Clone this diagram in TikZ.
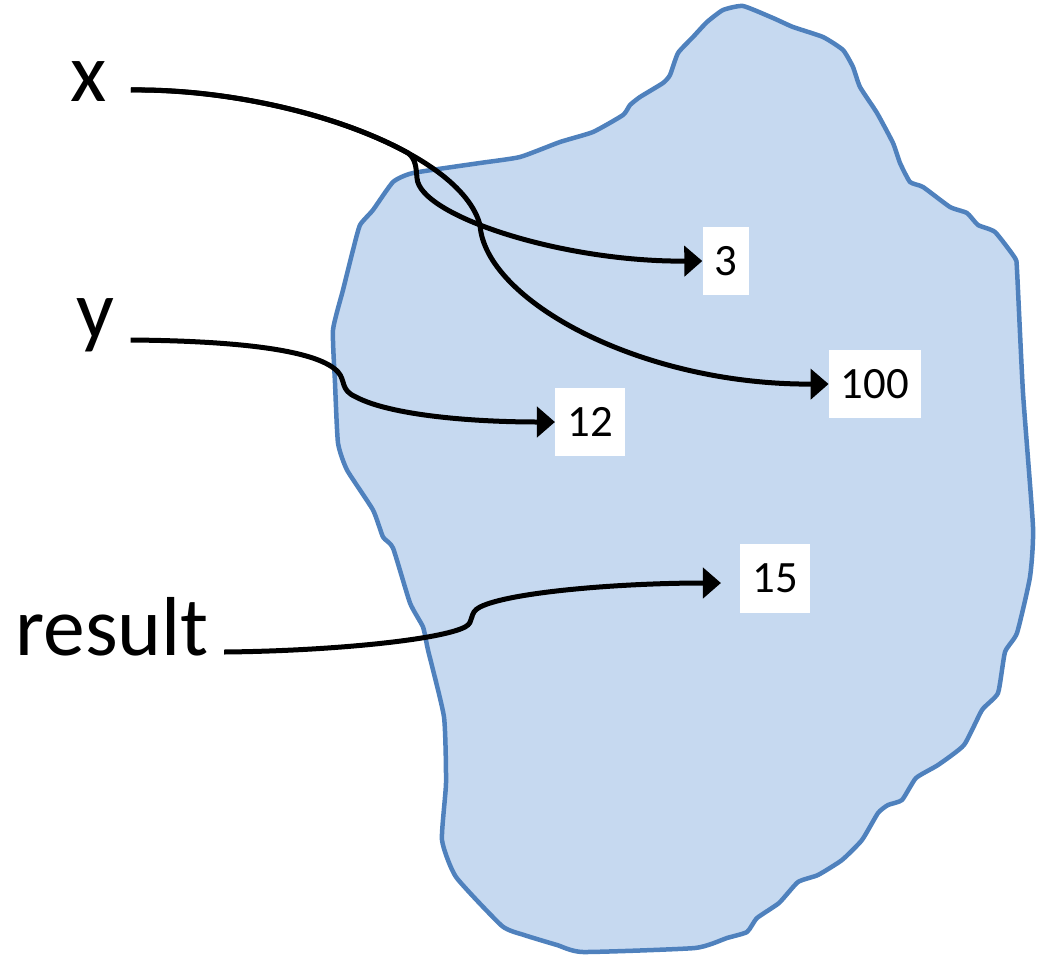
\documentclass[tikz,border=0pt]{standalone}
\usepackage{fontspec}
\setmainfont{Carlito}
\usetikzlibrary{positioning,arrows.meta}
\definecolor{blobfill}{HTML}{C6D9F0}
\definecolor{blobline}{HTML}{4F81BD}

\begin{document}
\begin{tikzpicture}[
    x=0.02cm, y=-0.02cm,
    var/.style={inner sep=0pt, anchor=base west, font=\fontsize{47.6}{50}\selectfont},
    val/.style={rectangle, fill=white, inner xsep=0.24cm, inner ysep=0pt, minimum height=1.38cm, font=\fontsize{25.5}{28}\selectfont},
    ptr/.style={-{Triangle[length=0.36cm, width=0.6cm]}, line width=0.1cm}
]
\useasboundingbox (0,0) rectangle (1041,960);

\draw[blobline, fill=blobfill, line width=0.09cm, line join=round]
    plot[smooth cycle, tension=0.3] coordinates {
    (393,182) (413,173) (480,163) (520,157) (560,142) (593,132) (623,115) (630,105)
    (640,97) (663,83) (670,75) (678,53) (693,37) (707,22) (723,10) (743,6)
    (773,18) (793,27) (823,37) (843,50) (853,67) (860,87) (877,113) (893,143)
    (900,163) (910,182) (923,187) (950,207) (967,213) (978,225) (995,232) (1015,258)
    (1017,270) (1023,393) (1033,527) (1030,577) (1017,633) (1005,652) (998,693) (982,710)
    (964,745) (938,765) (916,778) (902,800) (888,805) (878,813) (862,840) (842,860)
    (818,875) (798,882) (779,903) (757,918) (747,932) (727,938) (695,948) (583,952)
    (557,945) (524,935) (502,926) (456,877) (442,840) (446,783) (444,717) (428,650)
    (423,627) (410,603) (393,548) (383,537) (373,510) (347,470) (338,443) (335,383)
    (333,330) (343,290) (353,250) (360,225) (373,210)};

\node[var] (x) at (70,101) {x};
\node[var] (y) at (76,338) {y};
\node[var] (result) at (15,655) {result};

\node[val] (v3) at (726,261) {3};
\node[val] (v100) at (875,384) {100};
\node[val] (v12) at (590,422) {12};
\node[val] (v15) at (775,578) {15};

\draw[ptr] ([shift={(24,-11)}]x.base east) .. controls (227,89) and (338,114) .. (408,153)
    .. controls (416,159) and (416,168) .. (417,178)
    .. controls (419,215) and (560,262) .. (v3.west);
\draw[ptr] ([shift={(24,-11)}]x.base east) .. controls (280,88) and (460,150) .. (480,225)
    .. controls (485,300) and (640,385) .. (v100.west);
\draw[ptr] ([shift={(16,2)}]y.base east) .. controls (250,341) and (320,352) .. (338,372)
    .. controls (346,381) and (340,390) .. (356,397)
    .. controls (390,415) and (470,422) .. (v12.west);
\draw[ptr] ([shift={(15,-3)}]result.base east) .. controls (330,651) and (440,640) .. (465,627)
    .. controls (475,622) and (468,613) .. (480,607)
    .. controls (510,592) and (620,583) .. ([shift={(-19,5)}]v15.west);
\end{tikzpicture}
\end{document}
